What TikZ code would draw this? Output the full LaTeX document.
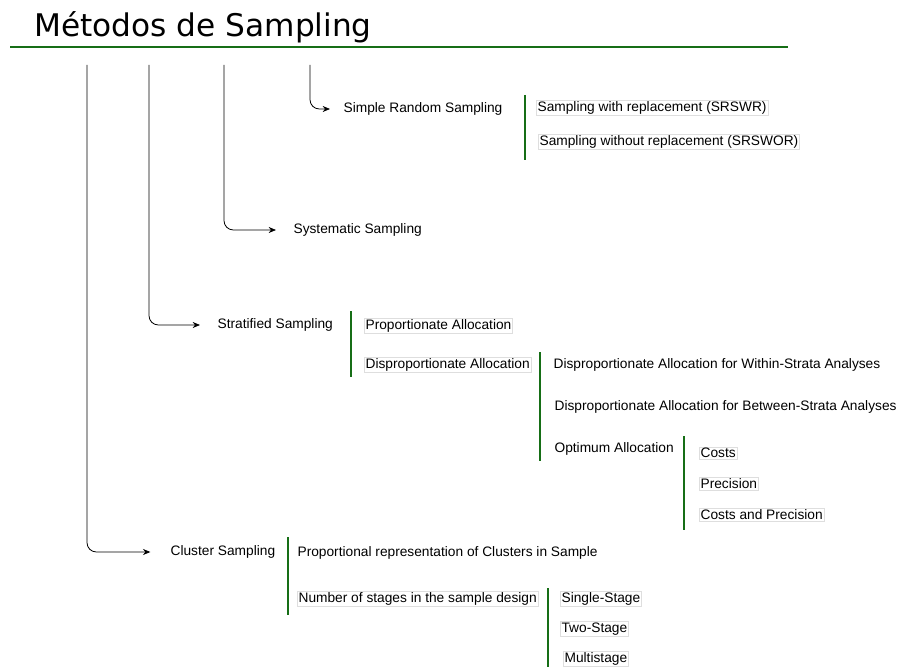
\documentclass[tikz,border=0pt]{standalone}
\usepackage{fontspec}
\setmainfont{Liberation Sans}
\newfontfamily\titlefont{DejaVu Sans}
\usetikzlibrary{arrows.meta,positioning}
\definecolor{bargreen}{RGB}{22,110,22}

\begin{document}
\begin{tikzpicture}[
  x=0.75pt, y=-0.75pt,
  >=Stealth,
  item/.style={anchor=west, inner sep=1pt, font=\fontsize{10.3}{12}\selectfont},
  boxed/.style={item, draw=black!13, line width=0.4pt},
  bar/.style={bargreen, line width=1.5pt},
  branch/.style={->, line width=0.6pt, rounded corners=7pt, >={Stealth[length=5.5pt,width=4.5pt]}},
]
  \useasboundingbox (0,0) rectangle (901,667);
  % Title and rule
  \node[anchor=west, inner sep=0pt, font=\titlefont\fontsize{23.4}{26}\selectfont] (title) at (34,27) {Métodos de Sampling};
  \draw[bargreen, line width=1.5pt] (10,47) -- (788,47);
  % Top ends of the branches
  \coordinate (tClu) at (87,65);
  \coordinate (tStr) at (149,65);
  \coordinate (tSys) at (224,65);
  \coordinate (tSrs) at (310,65);
  % Main methods
  \node[item] (srs) at (342,109) {Simple Random Sampling};
  \node[item] (sys) at (292,230) {Systematic Sampling};
  \node[item] (str) at (216,325) {Stratified Sampling};
  \node[item] (clu) at (169,552) {Cluster Sampling};
  \draw[branch, shorten >=9pt] (tSrs) |- (srs);
  \draw[branch, shorten >=12pt] (tSys) |- (sys);
  \draw[branch, shorten >=12pt] (tStr) |- (str);
  \draw[branch, shorten >=14pt] (tClu) |- (clu);
  % Simple random
  \draw[bar] (525,95) -- (525,160);
  \node[boxed] (srswr) at (536,108) {Sampling with replacement (SRSWR)};
  \node[boxed] (srswor) at (538,142) {Sampling without replacement (SRSWOR)};
  % Stratified
  \draw[bar] (351,311) -- (351,377);
  \node[boxed] (prop) at (364,326) {Proportionate Allocation};
  \node[boxed] (disp) at (364,365) {Disproportionate Allocation};
  \draw[bar] (540,352) -- (540,461);
  \node[item] (within) at (552,365) {Disproportionate Allocation for Within-Strata Analyses};
  \node[item] (between) at (553,407) {Disproportionate Allocation for Between-Strata Analyses};
  \node[item] (optim) at (553,449) {Optimum Allocation};
  \draw[bar] (684,436) -- (684,530);
  \node[boxed] (costs) at (699,453) {Costs};
  \node[boxed] (prec) at (699,484) {Precision};
  \node[boxed] (cprec) at (699,515) {Costs and Precision};
  % Cluster
  \draw[bar] (288,537) -- (288,615);
  \node[item] (repr) at (296,553) {Proportional representation of Clusters in Sample};
  \node[boxed] (stages) at (297,599) {Number of stages in the sample design};
  \draw[bar] (548,588) -- (548,667);
  \node[boxed] (single) at (560,599) {Single-Stage};
  \node[boxed] (two) at (560,629) {Two-Stage};
  \node[boxed] (multi) at (563,659) {Multistage};
\end{tikzpicture}
\end{document}
